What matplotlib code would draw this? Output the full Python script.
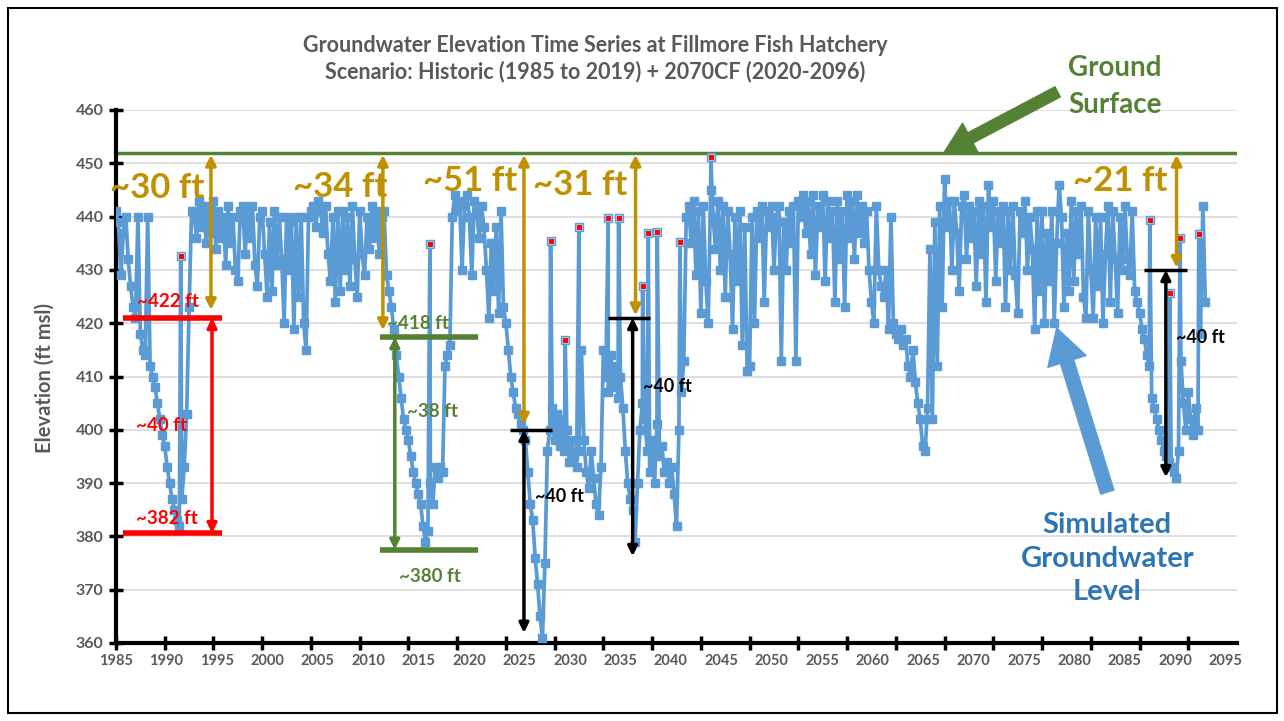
import matplotlib
matplotlib.use("Agg")
import matplotlib.pyplot as plt
import numpy as np
from matplotlib.patches import FancyArrowPatch, Rectangle

plt.rcParams['font.family'] = ['Lato', 'DejaVu Sans']

# quarterly groundwater elevation (ft msl)
hist_level = [
    441, 439, 429, 437,  440, 432, 427, 423,  421, 440, 418, 415,  414, 440, 412, 410,   # 1985-1988
    408, 405, 402, 399,  397, 393, 390, 387,  385, 383, 382, 387,  393, 403, 423, 441,   # 1989-1992
    441, 436, 443, 438,  442, 435, 441, 437,  443, 434, 441, 436,  440, 431, 442, 435,   # 1993-1996
    440, 430, 428, 441,  442, 433, 441, 436,  442, 431, 427, 440,  441, 433, 425, 439,   # 1997-2000
    426, 441, 431, 440,  432, 420, 440, 430,  439, 419, 440, 425,  440, 420, 415, 440,   # 2001-2004
    441, 442, 438, 443,  441, 437, 442, 433,  428, 440, 424, 441,  426, 441, 430, 440,   # 2005-2008
    427, 442, 432, 425,  441, 433, 429, 440,  434, 442, 436, 441,  433, 440, 441, 429,   # 2009-2012
    426, 423, 419, 414,  410, 406, 402, 400,  398, 395, 392, 390,  388, 386, 382, 379,   # 2013-2016
    381, 390, 386, 393,  391, 393, 392, 412,  414, 416, 440, 444,                        # 2017-2019
]
future_level = [
    441, 443, 430, 442,  444, 440, 429, 443,  441, 436, 442, 438,  430, 421, 435, 426,   # 2020-2023
    438, 422, 441, 423,  420, 415, 410, 407,  404, 403, 401, 400,  398, 392, 386, 383,   # 2024-2027
    376, 371, 365, 361,  375, 396, 400, 404,  398, 403, 397, 402,  396, 400, 394, 398,   # 2028-2031
    395, 393, 396, 415,  398, 392, 389, 396,  391, 386, 384, 393,  415, 410, 407, 414,   # 2032-2035
    408, 412, 406, 410,  404, 396, 390, 387,  385, 379, 390, 400,  405, 402, 396, 392,   # 2036-2039
    398, 390, 401, 395,  397, 392, 394, 390,  393, 388, 382, 400,  407, 413, 440, 442,   # 2040-2043
    435, 443, 429, 441,  422, 442, 428, 420,  445, 440, 434, 443,  430, 442, 425, 441,   # 2044-2047
    433, 419, 440, 428,  441, 416, 438, 411,  412, 440, 420, 441,  436, 442, 424, 441,   # 2048-2051
    438, 442, 430, 440,  442, 413, 439, 430,  441, 435, 442, 413,  443, 440, 444, 437,   # 2052-2055
    443, 433, 444, 429,  442, 438, 444, 428,  443, 436, 441, 424,  443, 432, 441, 423,   # 2056-2059
    444, 436, 443, 432,  444, 437, 442, 435,  441, 430, 424, 420,  442, 430, 427, 425,   # 2060-2063
    430, 419, 440, 420,  418, 417, 419, 416,  417, 412, 410, 415,  409, 405, 402, 397,   # 2064-2067
    396, 404, 434, 402,  439, 412, 442, 423,  447, 438, 443, 430,  443, 437, 426, 442,   # 2068-2071
    444, 432, 442, 436,  441, 427, 443, 433,  442, 424, 446, 438,  443, 428, 441, 435,   # 2072-2075
    442, 423, 441, 430,  442, 429, 422, 441,  437, 443, 430, 440,  434, 419, 441, 426,   # 2076-2079
    441, 420, 437, 428,  441, 420, 435, 446,  440, 423, 437, 426,  443, 428, 441, 433,   # 2080-2083
    442, 425, 421, 441,  430, 421, 440, 427,  440, 420, 433, 442,  424, 441, 432, 422,   # 2084-2087
    440, 430, 442, 432,  429, 441, 426, 424,  422, 419, 417, 414,  412, 406, 404, 402,   # 2088-2091
    400, 398, 396, 395,  394, 393, 392, 391,  396, 413, 405, 400,  407, 402, 399, 404,   # 2092-2095
    400, 418, 442, 424,                                                                  # 2096
]

# single-month highs drawn as red markers
spike_year = [1991.64, 2017.2, 2029.58, 2031.08, 2032.49, 2035.49, 2036.56, 2039.02,
              2039.6, 2040.52, 2042.85, 2046.03, 2091.05, 2093.1, 2094.16, 2096.08]
spike_level = [432.7, 434.8, 435.4, 416.8, 438.0, 439.7, 439.7, 426.9,
               436.9, 437.2, 435.2, 451.1, 439.3, 425.6, 436.0, 436.8]

ground_surface = 452
tick_years = list(range(1985, 2096, 5))

years = np.arange(1985, 2097, 0.25)
level = np.array(hist_level + future_level, dtype=float)
t = np.concatenate([years, spike_year])
v = np.concatenate([level, spike_level])
order = np.argsort(t, kind='stable')
t, v = t[order], v[order]

fig = plt.figure(figsize=(12.84, 7.21), dpi=100)
ax = fig.add_axes([116 / 1284, 1 - 643 / 721, 1121 / 1284, 533 / 721])

gray = '#595959'
gold = '#BF9000'
green = '#548235'

ax.plot(t, v, color='#5B9BD5', lw=2.7, marker='s', ms=6, mec='#5B9BD5', zorder=3)
ax.plot(spike_year, spike_level, 's', color='red', ms=5, mec='#9DC3E6', mew=0.8, zorder=4)
ax.axhline(ground_surface, color=green, lw=2.5, zorder=2)

ax.set_xlim(1985, 2100)
ax.set_ylim(360, 460)
ax.set_yticks(np.arange(360, 461, 10))
# tick marks every 5 years; the year labels sit on a slightly wider spacing, as in the original
ax.xaxis.remove_overlapping_locs = False
ax.set_xticks(tick_years)
ax.set_xticklabels([])
label_pos = 1985 + (np.array(tick_years) - 1985) * 1.0349
ax.set_xticks(label_pos, minor=True)
ax.set_xticklabels([str(y) for y in tick_years], minor=True)
ax.tick_params(axis='x', which='minor', length=0, labelsize=10.5, labelcolor=gray, pad=8)
ax.yaxis.grid(True, color='#D9D9D9', lw=1.2)
ax.set_axisbelow(True)
for s in ['top', 'right']:
    ax.spines[s].set_visible(False)
for s in ['left', 'bottom']:
    ax.spines[s].set_linewidth(3)
    ax.spines[s].set_color('black')
ax.tick_params(which='major', direction='inout', length=10, width=2.5, color='black')
ax.tick_params(axis='y', labelsize=11.5, labelcolor=gray, pad=4)
for lab in ax.get_xticklabels(minor=True) + ax.get_yticklabels():
    lab.set_fontweight('bold')

fig.text(45 / 1284, 1 - 378 / 721, 'Elevation (ft msl)', rotation=90, ha='center', va='center',
         fontsize=14.5, fontweight='bold', color=gray)
fig.text(595 / 1284, 1 - 45 / 721, 'Groundwater Elevation Time Series at Fillmore Fish Hatchery',
         ha='center', va='center', fontsize=15.5, fontweight='bold', color=gray)
fig.text(595 / 1284, 1 - 72 / 721, 'Scenario: Historic (1985 to 2019) + 2070CF (2020-2096)',
         ha='center', va='center', fontsize=15.5, fontweight='bold', color=gray)

# outer frame
fig.patches.append(Rectangle((8 / 1284, 8 / 721), 1269 / 1284, 705 / 721, transform=fig.transFigure,
                             fill=False, ec='black', lw=1.5))


def darrow(x, y0, y1, color, lw=2.5, ms=15):
    ax.annotate('', xy=(x, y0), xytext=(x, y1), zorder=6,
                arrowprops=dict(arrowstyle='<|-|>', color=color, lw=lw, mutation_scale=ms,
                                shrinkA=0, shrinkB=0))


def hbar(x0, x1, y, color, lw=3.5):
    ax.plot([x0, x1], [y, y], color=color, lw=lw, solid_capstyle='butt', zorder=6)


# depth below ground surface
for x, y1, tx, ty, txt in [(1994.74, 422.5, 1989.2, 445.4, '~30 ft'),
                           (2012.38, 418.7, 2008.0, 445.6, '~34 ft'),
                           (2026.85, 401.0, 2021.3, 446.7, '~51 ft'),
                           (2038.3, 421.5, 2032.6, 445.9, '~31 ft'),
                           (2093.8, 430.4, 2088.0, 446.7, '~21 ft')]:
    darrow(x, 451.6, y1, gold)
    ax.text(tx, ty, txt, color=gold, fontsize=25, fontweight='bold', ha='center', va='center', zorder=7)

# 1991 drawdown
hbar(1985.7, 1995.9, 421.0, 'red', lw=4)
hbar(1985.7, 1995.9, 380.6, 'red', lw=4)
darrow(1994.85, 421.0, 380.6, 'red', lw=2.5, ms=14)
ax.text(1990.3, 424.1, '~422 ft', color='red', fontsize=13.5, fontweight='bold', ha='center', va='center', zorder=7)
ax.text(1989.7, 400.9, '~40 ft', color='red', fontsize=13.5, fontweight='bold', ha='center', va='center', zorder=7)
ax.text(1990.2, 383.4, '~382 ft', color='red', fontsize=13.5, fontweight='bold', ha='center', va='center', zorder=7)

# 2016 drawdown
hbar(2012.1, 2022.1, 417.4, green, lw=4)
hbar(2012.1, 2022.1, 377.5, green, lw=4)
darrow(2013.6, 417.4, 377.5, green, lw=2.5, ms=14)
ax.text(2012.8, 420.0, '~418 ft', color=green, fontsize=13.5, fontweight='bold', ha='left', va='center', zorder=7)
ax.text(2017.5, 403.5, '~38 ft', color=green, fontsize=13.5, fontweight='bold', ha='center', va='center', zorder=7)
ax.text(2017.2, 372.4, '~380 ft', color=green, fontsize=13.5, fontweight='bold', ha='center', va='center', zorder=7)

# projected drawdowns
for x0, x1, xa, ytop, ybot, tx, ty in [(2025.4, 2029.7, 2026.85, 400.0, 361.9, 2030.5, 387.4),
                                       (2035.5, 2039.8, 2038.0, 421.0, 376.3, 2041.6, 408.2),
                                       (2090.5, 2094.9, 2092.7, 430.0, 391.1, 2096.2, 417.4)]:
    hbar(x0, x1, ytop, 'black', lw=2.5)
    darrow(xa, ytop, ybot, 'black', lw=2.5, ms=14)
    ax.text(tx, ty, '~40 ft', color='black', fontsize=13, fontweight='bold', ha='center', va='center', zorder=7)

# ground surface callout
fig.text(1115 / 1284, 1 - 68 / 721, 'Ground', color=green, fontsize=20, fontweight='bold', ha='center', va='center')
fig.text(1115 / 1284, 1 - 105 / 721, 'Surface', color=green, fontsize=20, fontweight='bold', ha='center', va='center')
ax.add_patch(FancyArrowPatch((2081.6, 463.4), (2070.0, 452.2), clip_on=False, zorder=7,
                             arrowstyle='simple,head_width=1.6,head_length=1.4,tail_width=0.55',
                             mutation_scale=15, color=green, shrinkA=0, shrinkB=0))

# simulated level callout
ax.text(2086.7, 375.8, 'Simulated\nGroundwater\nLevel', color='#2E75B6', fontsize=21, fontweight='bold',
        ha='center', va='center', linespacing=1.35, zorder=7)
ax.add_patch(FancyArrowPatch((2086.7, 388.3), (2081.5, 419.1), zorder=7,
                             arrowstyle='simple,head_width=1.6,head_length=1.4,tail_width=0.55',
                             mutation_scale=18, color='#5B9BD5', shrinkA=0, shrinkB=0))

fig.savefig('out.png', dpi=100)
